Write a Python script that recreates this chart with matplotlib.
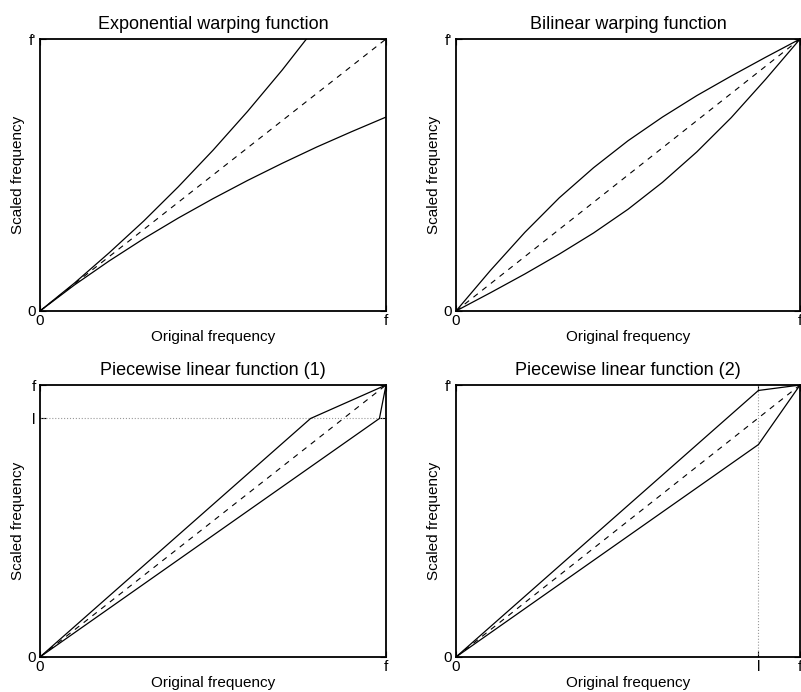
import matplotlib
matplotlib.use("Agg")
import matplotlib.pyplot as plt

plt.rcParams["font.family"] = ["Liberation Sans", "DejaVu Sans"]

# eixo x comum (frequencia original normalizada)
x_grid = [0.0, 0.1, 0.2, 0.3, 0.4, 0.5, 0.6, 0.7, 0.8, 0.9, 1.0]
diag = [0.0, 1.0]

# 1 - exponencial
exp_up_x = [0.0, 0.1, 0.2, 0.3, 0.4, 0.5, 0.6, 0.7, 0.77]
exp_up_y = [0.0, 0.103, 0.214, 0.331, 0.457, 0.591, 0.734, 0.886, 1.0]
exp_low_y = [0.0, 0.096, 0.184, 0.266, 0.342, 0.413, 0.480, 0.543, 0.603, 0.659, 0.713]

# 2 - bilinear
bil_up_y = [0.0, 0.149, 0.289, 0.416, 0.527, 0.626, 0.713, 0.792, 0.864, 0.933, 1.0]
bil_low_y = [0.0, 0.067, 0.136, 0.209, 0.287, 0.374, 0.473, 0.585, 0.711, 0.852, 1.0]

# 3 - linear por partes (1)
pw1_l = 0.877
pw1_up_x = [0.0, 0.782, 1.0]
pw1_up_y = [0.0, 0.877, 1.0]
pw1_low_x = [0.0, 0.981, 1.0]
pw1_low_y = [0.0, 0.877, 1.0]

# 4 - linear por partes (2)
pw2_l = 0.879
pw2_up_x = [0.0, 0.879, 1.0]
pw2_up_y = [0.0, 0.980, 1.0]
pw2_low_x = [0.0, 0.879, 1.0]
pw2_low_y = [0.0, 0.781, 1.0]

fig = plt.figure(figsize=(8.01, 6.92), dpi=100)

pos = [
    [0.0499, 0.5506, 0.4320, 0.3930],
    [0.5693, 0.5506, 0.4295, 0.3930],
    [0.0499, 0.0506, 0.4320, 0.3930],
    [0.5693, 0.0506, 0.4295, 0.3930],
]
titulos = [
    "Exponential warping function",
    "Bilinear warping function",
    "Piecewise linear function (1)",
    "Piecewise linear function (2)",
]

axes = []
for p, t in zip(pos, titulos):
    ax = fig.add_axes(p)
    ax.set_xlim(0, 1)
    ax.set_ylim(0, 1)
    ax.set_title(t, fontsize=13, pad=7)
    ax.set_xlabel("Original frequency", fontsize=11, labelpad=1)
    ax.set_ylabel("Scaled frequency", fontsize=11, labelpad=2)
    for s in ax.spines.values():
        s.set_linewidth(1.3)
    ax.tick_params(direction="in", length=4, width=0.8, labelsize=11,
                   top=True, right=True)
    ax.tick_params(axis="x", pad=2.5)
    ax.tick_params(axis="y", pad=3)
    ax.plot(diag, diag, color="black", linestyle=(0, (5, 5)), linewidth=0.8)
    axes.append(ax)

lw = 0.9

ax = axes[0]
ax.plot(exp_up_x, exp_up_y, color="black", linewidth=lw)
ax.plot(x_grid, exp_low_y, color="black", linewidth=lw)
ax.set_xticks([0, 1], ["0", "f"])
ax.set_yticks([0, 1], ["0", "f'"])

ax = axes[1]
ax.plot(x_grid, bil_up_y, color="black", linewidth=lw)
ax.plot(x_grid, bil_low_y, color="black", linewidth=lw)
ax.set_xticks([0, 1], ["0", "f"])
ax.set_yticks([0, 1], ["0", "f'"])

ax = axes[2]
ax.axhline(pw1_l, color="#999999", linestyle=":", linewidth=0.8)
ax.plot(pw1_up_x, pw1_up_y, color="black", linewidth=lw)
ax.plot(pw1_low_x, pw1_low_y, color="black", linewidth=lw)
ax.set_xticks([0, 1], ["0", "f"])
ax.set_yticks([0, pw1_l, 1], ["0", "l", "f"])

ax = axes[3]
ax.axvline(pw2_l, color="#999999", linestyle=":", linewidth=0.8)
ax.plot(pw2_up_x, pw2_up_y, color="black", linewidth=lw)
ax.plot(pw2_low_x, pw2_low_y, color="black", linewidth=lw)
ax.set_xticks([0, pw2_l, 1], ["0", "l", "f"])
ax.set_yticks([0, 1], ["0", "f'"])

plt.savefig("out.png", dpi=100)
